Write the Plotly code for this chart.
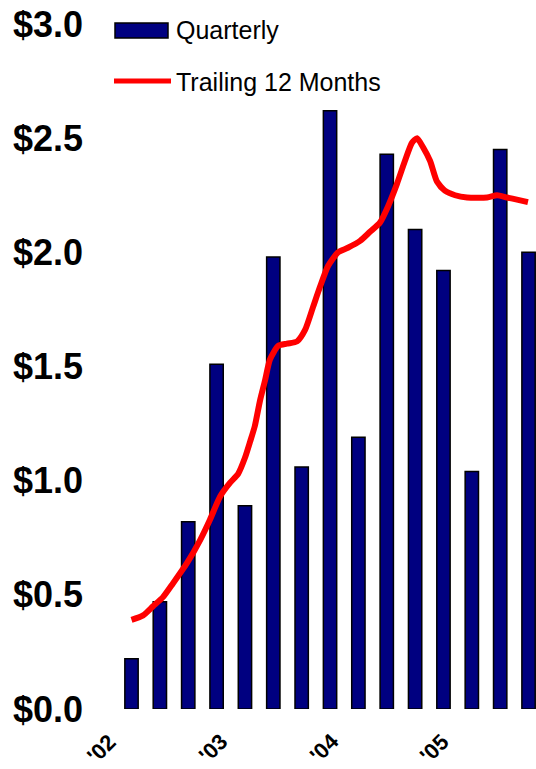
import plotly.graph_objects as go

# Quarterly values, one per quarter (positions 1..15 on the x axis)
quarter_pos = list(range(1, 16))
quarterly = [0.22, 0.47, 0.82, 1.51, 0.89, 1.98, 1.06, 2.62, 1.19, 2.43,
             2.10, 1.92, 1.04, 2.45, 2.00]

# Trailing 12-month curve, sampled between quarters
ttm_pos = [1.00, 1.41, 1.76, 2.11, 2.46, 2.96, 3.42, 3.77, 4.12, 4.47,
           4.76, 5.00, 5.18, 5.35, 5.53, 5.71, 5.88, 6.17, 6.48, 6.84,
           7.12, 7.40, 7.65, 7.93, 8.28, 8.63, 9.06, 9.41, 9.76, 10.04,
           10.36, 10.64, 10.89, 11.07, 11.28, 11.53, 11.77, 12.05, 12.41,
           12.83, 13.54, 13.89, 14.24, 14.63, 14.98]
ttm = [0.39, 0.41, 0.45, 0.49, 0.55, 0.64, 0.74, 0.83, 0.93, 0.99,
       1.03, 1.10, 1.17, 1.24, 1.35, 1.44, 1.53, 1.59, 1.60, 1.61,
       1.66, 1.76, 1.85, 1.94, 2.00, 2.02, 2.05, 2.09, 2.13, 2.20,
       2.30, 2.40, 2.48, 2.50, 2.46, 2.40, 2.31, 2.27, 2.25, 2.24,
       2.24, 2.25, 2.24, 2.23, 2.22]

# Year labels, placed under the start of each year's quarters
year_pos = [-0.06, 3.86, 7.77, 11.67]
year_labels = ["'02", "'03", "'04", "'05"]

y_ticks = [0, 0.5, 1.0, 1.5, 2.0, 2.5, 3.0]
y_labels = ["$0.0", "$0.5", "$1.0", "$1.5", "$2.0", "$2.5", "$3.0"]

NAVY = "#000080"
RED = "#FF0000"
FONT = "Liberation Sans, Arial, sans-serif"

fig = go.Figure()
fig.add_trace(go.Bar(
    x=quarter_pos, y=quarterly, width=0.47, name="Quarterly",
    marker=dict(color=NAVY, line=dict(color="#000000", width=1.5)),
    showlegend=False,
))
fig.add_trace(go.Scatter(
    x=ttm_pos, y=ttm, mode="lines", name="Trailing 12 Months",
    line=dict(color=RED, width=6, shape="spline", smoothing=0.6),
    showlegend=False,
))

# Hand-built legend in the upper-left corner of the plot
W, H, L, T = 436.0, 685.0, 100.0, 24.0
def px(xp):
    return (xp - L) / W
def py(yp):
    return (T + H - yp) / H

fig.add_shape(type="rect", xref="paper", yref="paper",
              x0=px(115), x1=px(168), y0=py(38), y1=py(23),
              fillcolor=NAVY, line=dict(color="#000000", width=1.5))
fig.add_shape(type="line", xref="paper", yref="paper",
              x0=px(114), x1=px(171), y0=py(81), y1=py(81),
              line=dict(color=RED, width=5))
fig.add_annotation(xref="paper", yref="paper", x=px(174), y=py(30),
                   xanchor="left", yanchor="middle", showarrow=False,
                   text="Quarterly", font=dict(family=FONT, size=25, color="#000"))
fig.add_annotation(xref="paper", yref="paper", x=px(174), y=py(82),
                   xanchor="left", yanchor="middle", showarrow=False,
                   text="Trailing 12 Months", font=dict(family=FONT, size=25, color="#000"))

# Slanted year labels below the axis
for xv, lab in zip(year_pos, year_labels):
    fig.add_annotation(xref="x", yref="paper", x=xv, y=py(748),
                       xanchor="center", yanchor="middle", showarrow=False,
                       textangle=-45, text=lab,
                       font=dict(family=FONT, size=22, color="#000", weight="bold"))

fig.update_layout(
    width=536, height=769,
    margin=dict(l=100, r=0, t=24, b=60),
    paper_bgcolor="white", plot_bgcolor="white",
)
fig.update_xaxes(
    range=[-0.111, 15.263], showgrid=False, zeroline=False, showline=False,
    showticklabels=False, ticks="",
)
fig.update_yaxes(
    range=[0, 3], showgrid=False, zeroline=False, showline=False,
    tickmode="array", tickvals=y_ticks, ticktext=y_labels,
    tickfont=dict(family=FONT, size=36, color="#000", weight="bold"),
    ticks="", ticklabelstandoff=16,
)

fig.write_html("out.html")
